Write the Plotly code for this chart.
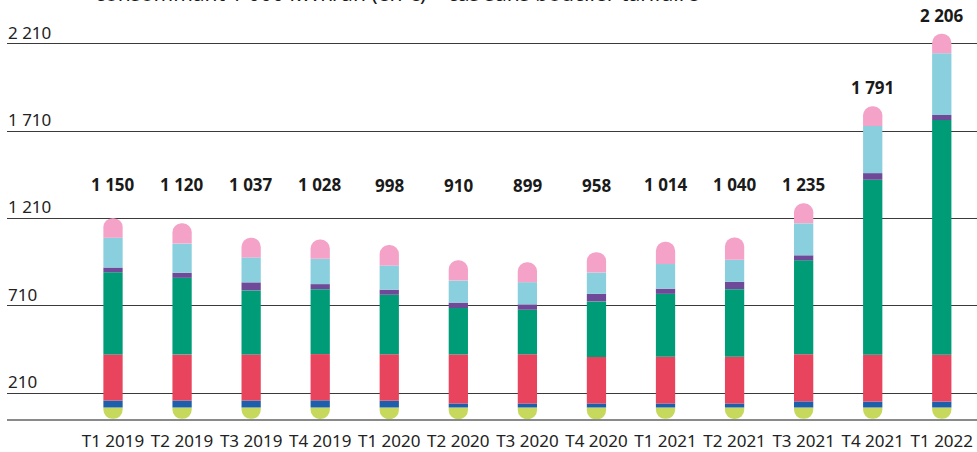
import plotly.graph_objects as go

categories = ["T1 2019", "T2 2019", "T3 2019", "T4 2019", "T1 2020", "T2 2020", "T3 2020",
              "T4 2020", "T1 2021", "T2 2021", "T3 2021", "T4 2021", "T1 2022"]
totals = [1150, 1120, 1037, 1028, 998, 910, 899, 958, 1014, 1040, 1235, 1791, 2206]
total_labels = ["1 150", "1 120", "1 037", "1 028", "998", "910", "899", "958",
                "1 014", "1 040", "1 235", "1 791", "2 206"]

# stacked components, from bottom to top
comp_yellowgreen = [65, 65, 65, 66, 67, 67, 67, 68, 65, 66, 65, 65, 65]
comp_blue = [40, 40, 40, 41, 39, 23, 23, 23, 23, 23, 35, 34, 34]
comp_red = [264, 263, 264, 265, 266, 281, 282, 266, 268, 267, 270, 268, 268]
comp_green = [471, 440, 367, 372, 341, 266, 255, 319, 360, 388, 538, 1003, 1345]
comp_purple = [27, 29, 46, 29, 29, 31, 31, 43, 30, 42, 29, 38, 29]
comp_lightblue = [171, 167, 143, 145, 139, 126, 127, 122, 141, 126, 183, 270, 354]
comp_pink = [112, 116, 112, 110, 117, 116, 114, 117, 127, 128, 115, 113, 111]

tick_labels = ["210", "710", "1 210", "1 710", "2 210"]
tick_values = [149, 649, 1149, 1649, 2149]   # in € from the bar base
label_floor = 1235
axis_top = 2401

title_text = "consommant 1 000 kWh/an (en €) – cas sans bouclier tarifaire"

components = [
    ("Composante 2", comp_blue, "#1d5faa"),
    ("Composante 3", comp_red, "#e9445d"),
    ("Composante 4", comp_green, "#009c78"),
    ("Composante 5", comp_purple, "#6f4a99"),
    ("Composante 6", comp_lightblue, "#89cfdd"),
    ("Composante 7", comp_pink, "#f4a2c7"),
]

# The relative stack is measured from the top of the bottom segment, which is drawn
# downward (negative) so that both ends of each bar can be rounded by Plotly.
ref_level = 66

fig = go.Figure()
BAR_W = 0.279

fig.add_trace(go.Bar(
    x=categories, y=[-v for v in comp_yellowgreen], width=BAR_W,
    marker=dict(color="#c6d95d", line=dict(width=0)),
    name="Composante 1", showlegend=False))

for name, vals, col in components:
    fig.add_trace(go.Bar(
        x=categories, y=vals, width=BAR_W,
        marker=dict(color=col, line=dict(width=0)),
        name=name, showlegend=False))

for cat, tot, yg, lab in zip(categories, totals, comp_yellowgreen, total_labels):
    fig.add_annotation(x=cat, y=max(tot, label_floor) - yg, text="<b>" + lab + "</b>",
                       showarrow=False, yanchor="bottom", yshift=5,
                       font=dict(family="Noto Sans", size=17, color="#1a1a1a"))

fig.add_annotation(xref="paper", yref="paper", x=0.0887, y=1, xanchor="left", yanchor="bottom",
                   yshift=-9, text=title_text, showarrow=False,
                   font=dict(family="Noto Sans", size=21, color="#1a1a1a"))

fig.update_layout(
    width=977, height=452, barmode="relative", barcornerradius="50%",
    margin=dict(l=7, r=0, t=0, b=33),
    paper_bgcolor="white", plot_bgcolor="white",
    font=dict(family="Noto Sans", size=17, color="#222222"),
    xaxis=dict(type="category", range=[-1.535, 12.51], showgrid=False,
               showline=True, linecolor="#8a8a8a", linewidth=2, ticks="",
               ticklabelstandoff=6,
               tickfont=dict(size=17, color="#222222")),
    yaxis=dict(range=[-ref_level, axis_top - ref_level],
               tickvals=[v - ref_level for v in tick_values], ticktext=tick_labels,
               showgrid=True, gridcolor="#3a3a3a", gridwidth=1, zeroline=False,
               showline=False, ticks="", ticklabelposition="inside",
               ticklabelshift=-11, ticklabelstandoff=-2,
               tickfont=dict(size=17, color="#222222")),
)

fig.write_html("out.html", config={"displayModeBar": False},
               post_script="document.body.style.margin='0';")
